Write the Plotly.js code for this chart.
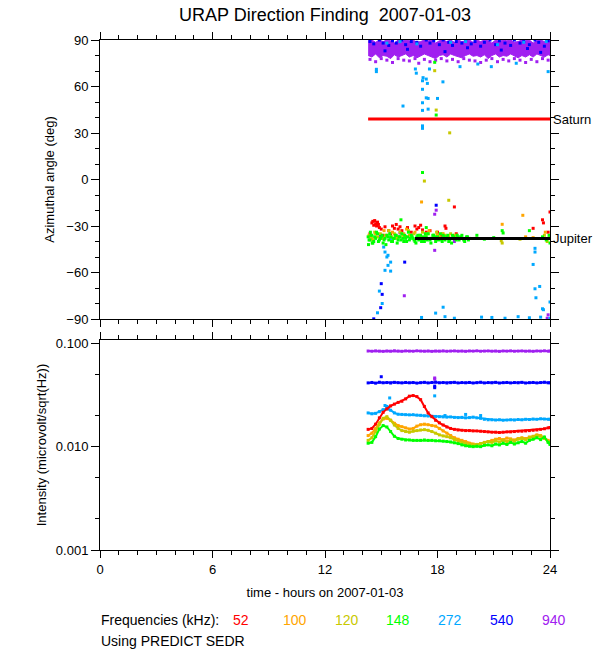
<!DOCTYPE html>
<html>
<head>
<meta charset="utf-8">
<script src="https://cdn.plot.ly/plotly-3.0.1.min.js"></script>
<style>html,body{margin:0;padding:0;background:#fff;}#chart{width:600px;height:650px;}</style>
</head>
<body>
<div id="chart"></div>
<script>
// ---------- DATA ----------
const FREQ_LABELS = ['52','100','120','148','272','540','940'];

// common time grid (hours)
const HOURS = [
14.3,14.5,14.7,14.9,15.1,15.3,15.5,15.7,15.9,16.1,
16.3,16.5,16.7,16.9,17.1,17.3,17.5,17.7,17.9,18.1,
18.3,18.5,18.7,18.9,19.1,19.3,19.5,19.7,19.9,20.1,
20.3,20.5,20.7,20.9,21.1,21.3,21.5,21.7,21.9,22.1,
22.3,22.5,22.7,22.9,23.1,23.3,23.5,23.7,23.9,24.0];

// intensity (microvolt/sqrt(Hz)) per frequency
const I52 = [
0.0147,0.0150,0.0165,0.0190,0.0215,0.0232,0.0248,0.0258,0.0268,0.0275,
0.0290,0.0308,0.0312,0.0305,0.0285,0.0245,0.0212,0.0195,0.0180,0.0170,
0.0162,0.0155,0.0150,0.0147,0.0145,0.0144,0.0143,0.0143,0.0142,0.0142,
0.0141,0.0140,0.0139,0.0138,0.0138,0.0137,0.0138,0.0139,0.0139,0.0140,
0.0141,0.0141,0.0142,0.0143,0.0144,0.0145,0.0147,0.0149,0.0152,0.0153];
const I100 = [
0.0128,0.0135,0.0150,0.0170,0.0185,0.0188,0.0180,0.0168,0.0160,0.0156,
0.0152,0.0148,0.0150,0.0158,0.0163,0.0165,0.0163,0.0160,0.0158,0.0150,
0.0142,0.0135,0.0128,0.0122,0.0118,0.0115,0.0112,0.0108,0.0106,0.0105,
0.0107,0.0110,0.0112,0.0115,0.0118,0.0120,0.0117,0.0121,0.0119,0.0116,
0.0120,0.0122,0.0120,0.0124,0.0126,0.0130,0.0128,0.0122,0.0115,0.0112];
const I120 = [
0.0115,0.0122,0.0140,0.0165,0.0188,0.0195,0.0180,0.0162,0.0150,0.0143,
0.0140,0.0138,0.0141,0.0143,0.0145,0.0146,0.0144,0.0140,0.0135,0.0130,
0.0127,0.0125,0.0122,0.0117,0.0113,0.0110,0.0107,0.0105,0.0104,0.0105,
0.0107,0.0109,0.0112,0.0110,0.0114,0.0111,0.0115,0.0112,0.0116,0.0113,
0.0118,0.0120,0.0117,0.0122,0.0125,0.0128,0.0126,0.0120,0.0112,0.0110];
const I148 = [
0.0108,0.0110,0.0125,0.0148,0.0160,0.0155,0.0140,0.0126,0.0120,0.0118,
0.0116,0.0116,0.0115,0.0115,0.0115,0.0116,0.0115,0.0115,0.0114,0.0114,
0.0113,0.0112,0.0111,0.0109,0.0107,0.0104,0.0102,0.0101,0.0100,0.0101,
0.0100,0.0103,0.0104,0.0102,0.0106,0.0104,0.0108,0.0105,0.0110,0.0106,
0.0109,0.0112,0.0108,0.0115,0.0118,0.0122,0.0117,0.0124,0.0110,0.0105];
const I272 = [
0.0212,0.0208,0.0210,0.0218,0.0228,0.0232,0.0225,0.0212,0.0206,0.0205,
0.0204,0.0203,0.0204,0.0202,0.0201,0.0199,0.0198,0.0197,0.0196,0.0195,
0.0194,0.0193,0.0194,0.0192,0.0191,0.0192,0.0190,0.0191,0.0193,0.0190,
0.0188,0.0184,0.0182,0.0182,0.0181,0.0182,0.0180,0.0181,0.0182,0.0181,
0.0183,0.0182,0.0184,0.0183,0.0185,0.0184,0.0186,0.0185,0.0184,0.0184];
const I540 = [
0.0414,0.0418,0.0412,0.0420,0.0415,0.0417,0.0413,0.0419,0.0416,0.0414,
0.0418,0.0415,0.0417,0.0412,0.0416,0.0419,0.0414,0.0418,0.0421,0.0415,
0.0417,0.0413,0.0416,0.0419,0.0414,0.0417,0.0415,0.0418,0.0413,0.0416,
0.0420,0.0414,0.0417,0.0415,0.0419,0.0413,0.0416,0.0418,0.0414,0.0417,
0.0415,0.0419,0.0413,0.0416,0.0418,0.0414,0.0417,0.0420,0.0415,0.0416];
const I940 = [
0.0842,0.0838,0.0845,0.0840,0.0836,0.0843,0.0839,0.0847,0.0841,0.0837,
0.0844,0.0840,0.0838,0.0846,0.0841,0.0839,0.0843,0.0836,0.0842,0.0840,
0.0845,0.0838,0.0841,0.0844,0.0839,0.0842,0.0837,0.0843,0.0840,0.0846,
0.0838,0.0841,0.0844,0.0839,0.0842,0.0836,0.0843,0.0840,0.0845,0.0838,
0.0841,0.0844,0.0839,0.0842,0.0837,0.0843,0.0840,0.0846,0.0839,0.0841];

// intensity outliers
const I540_OUT_X = [15.0,17.85,17.85];
const I540_OUT_Y = [0.0475,0.0372,0.0385];
const I940_OUT_X = [17.85,17.85];
const I940_OUT_Y = [0.0462,0.0450];
const I272_OUT_X = [17.85,15.45,15.2,15.3,15.4,19.5,18.4,20.3];
const I272_OUT_Y = [0.031,0.0296,0.0250,0.0245,0.0240,0.0205,0.0200,0.0200];

// azimuth: 940 kHz dense band (lower / upper edge)
const BAND_LOW = [
80,79,81,78.5,80,79.5,78,80.5,79,80,
81,79,80,78.5,79.5,81,80,79,78,80,
80.5,79,81,80,79,78.5,80,81,79.5,80,
79,80.5,78,80,81,79,80,79.5,81,80,
78.5,80,79,80.5,79,81,80,79,80.5,80];
const BAND_TOP = [
89.5,90,88.5,90,89,90,89.5,88,90,89,
90,89.5,90,88.5,89,90,89.5,90,88,89.5,
90,89,90,88.5,90,89,89.5,90,88.5,90,
89,90,89.5,88,90,89,90,89.5,90,88.5,
89,90,89.5,90,88,89.5,90,89,90,89.5];

// azimuth scatter points per frequency
const AZ940_X = [14.4,14.7,15.0,15.3,15.6,15.9,16.2,16.5,16.8,17.0,
17.3,17.6,17.9,18.2,18.5,18.8,19.1,19.4,19.7,20.0,
20.3,20.6,20.9,21.2,21.5,21.8,22.1,22.4,22.7,23.0,
23.3,23.6,23.9,17.93,17.85,17.85,16.23,23.9,23.85,16.0,18.9];
const AZ940_Y = [77.5,76,78,77,75.5,78,77,76.5,78,75,
77.5,76,77,78,76.5,77.5,76,78,77,76.5,
75.5,77,78,76,77.5,76.5,78,77,75.5,77.5,
76,78,77,-19.8,-22.4,-45.7,-75,-87.3,-89.5,-34.5,-40];

const AZ540_X = [14.4,14.6,14.9,15.1,15.4,15.6,15.8,16.1,16.3,16.6,
16.9,17.1,17.4,17.6,17.8,18.1,18.3,18.6,18.8,19.0,
19.3,19.5,19.8,20.0,20.3,20.5,20.8,21.1,21.3,21.6,
21.9,22.1,22.4,22.6,22.9,23.2,23.4,23.7,23.9,15.2,
16.4,18.4,19.6,21.4,22.8,23.5,
16.25,15.0,15.05,14.97,14.6,17.93,14.97];
const AZ540_Y = [89,87.5,90,88,86.5,89.5,88,90,87,89,
88.5,86,90,88,89.5,87,90,88.5,86.5,89,
88,90,87.5,89,86,88.5,90,87,89.5,88,
86.5,90,88,89,87,90,88.5,86,89.5,83,
84,82.5,85,83.5,84.5,82,
-53.3,-67.2,-74.1,-82.7,-89.9,-16.6,-36];

const AZ272_X = [14.74,14.74,16.82,16.87,17.57,17.23,17.4,17.2,17.46,18.29,
17.2,17.4,17.5,18.0,17.2,16.16,17.2,17.5,17.2,17.2,
19.2,20.15,20.87,22.2,23.9,
15.13,15.2,15.36,15.3,15.5,15.36,15.2,15.5,14.9,15.05,14.8,
23.2,23.2,23.1,23.2,23.45,23.25,23.6,23.65,24.0,18.3,17.9,
17.15,18.4,18.9,20.35,20.9,21.6,22.3,22.9,23.5,24.0,
15.3,16.0,16.9,18.7,19.5,21.2,22.6,23.8,15.5];
const AZ272_Y = [71.1,69.6,71.3,68.6,71.3,65.7,64.8,63.7,62,63,
58.2,52.7,52.3,52.3,49.5,47.4,44.6,45.4,34.6,33,
72.8,74.5,72.8,75,69.6,
-43.6,-46.8,-48.9,-50,-53.3,-55.4,-58.6,-59.1,-72,-80,-86,
-44.4,-46.8,-54.8,-70.5,-69,-76.3,-83.4,-84,-79,-82.4,-86.2,
-89,-88.5,-89.5,-88.8,-89,-89.5,-88.5,-89.2,-88.8,-89.5,
88,89,87.5,88.5,89,87,88.5,89,-38];

const AZ148_X = [
14.3,14.4,14.5,14.6,14.7,14.8,14.9,15.0,15.1,15.2,
15.3,15.4,15.5,15.6,15.7,15.8,15.9,16.0,16.1,16.2,
16.3,16.4,16.5,16.6,16.7,16.8,16.9,17.0,17.1,17.2,
17.3,17.4,17.5,17.6,17.7,17.8,17.9,18.0,18.1,18.2,
18.3,18.4,18.5,18.6,18.7,18.8,18.9,19.0,19.1,19.2,
19.3,19.4,19.5,19.6,19.7,
14.35,14.45,14.55,14.65,14.75,14.85,14.95,15.05,15.15,15.25,
15.35,15.45,15.55,15.65,15.75,15.85,15.95,16.05,16.15,16.25,
16.35,16.45,16.55,16.65,16.75,16.85,16.95,17.05,17.15,17.25,
17.35,17.45,17.55,17.65,17.75,17.85,17.95,18.05,18.15,18.25,
18.35,18.45,18.55,18.65,18.75,18.85,18.95,19.05,19.15,19.25,
19.35,19.45,19.55,19.65,
20.1,20.5,21.0,21.45,21.5,22.9,23.6,23.8,23.95,24.0,
17.85,17.93,17.2,16.05,17.4,14.32,14.42,14.52];
const AZ148_Y = [
-37,-39,-36,-40,-38,-35,-39,-37,-41,-38,
-36,-39,-37,-40,-38,-36,-39,-37,-35,-40,
-38,-37,-39,-36,-38,-40,-37,-39,-36,-38,
-40,-37,-35,-39,-38,-36,-40,-37,-39,-38,
-36,-39,-37,-40,-38,-36,-38,-39,-37,-38,
-36,-39,-38,-37,-38,
-39,-36,-41,-37,-34,-40,-38,-36,-39,-42,
-37,-35,-40,-38,-36,-41,-37,-39,-38,-36,
-40,-34,-38,-37,-39,-41,-36,-38,-40,-37,
-35,-39,-38,-41,-36,-37,-39,-38,-35,-40,
-37,-38,-36,-39,-41,-37,-38,-36,-39,-37,
-38,-40,-37,-39,
-36,-38.5,-37.5,-33,-34.5,-33,-37,-39,-36,-41,
75.6,41.6,4.5,-26,-31,-42,-34,-41];

const AZ120_X = [14.35,14.5,14.65,14.8,14.95,15.1,15.25,15.4,15.55,15.7,
15.85,16.0,16.15,16.3,16.45,16.6,16.75,16.9,17.05,17.2,
17.35,17.5,17.65,17.8,17.95,18.1,18.25,18.4,18.55,18.7,
18.85,19.0,21.4,21.45,22.4,23.7,23.85,24.0,17.85,17.93,18.65,17.3,18.6];
const AZ120_Y = [-36,-38,-34,-37,-35,-38,-36,-33,-37,-35,
-38,-34,-36,-37,-33,-36,-35,-38,-36,-34,
-37,-35,-38,-36,-34,-37,-35,-36,-38,-35,
-37,-36,-39.5,-41,-38.5,-36,-40,-37,70.2,44.8,30.1,-1,-13.4];

const AZ100_X = [14.4,14.7,15.0,15.3,15.6,15.9,16.2,16.5,16.8,17.1,
17.4,17.7,18.0,18.3,18.6,18.9,14.55,15.15,15.75,16.35,
16.95,17.55,21.45,22.55,22.7,23.1,23.75,23.9,17.15,20.0];
const AZ100_Y = [-37,-35,-38,-36,-34,-37,-35,-36,-34,-37,
-35,-38,-36,-35,-37,-36,-39,-33,-36,-32,
-38,-33,-28.9,-23.1,-37,-37.5,-34,-38,-14.5,-38];

const AZ52_X = [14.5,14.55,14.6,14.65,14.7,14.75,14.8,14.85,14.9,15.0,
15.2,15.4,15.6,15.7,15.8,15.9,16.0,16.1,16.4,16.6,
16.8,16.9,17.0,17.1,17.2,17.6,18.0,18.4,18.45,14.4,
15.1,15.5,16.3,17.4,18.2,19.0,18.9,23.1,23.6,23.65,23.9,24.0];
const AZ52_Y = [-28,-27,-29.5,-26.5,-28.5,-30,-27.5,-29,-31,-32,
-30.5,-33,-30,-31.5,-29,-32,-30.5,-33,-31,-34,
-30,-32,-31,-29.5,-32.5,-33,-34,-30,-31.5,-35,
-36,-35,-37,-34,-36,-35,-17.7,-31.5,-26,-28,-34,-20.9];

// planet directions
const SATURN_X = [14.3, 24];
const SATURN_Y = [39, 39];
const JUPITER_X = [16.8, 24];
const JUPITER_Y = [-38, -38];

// ---------- STYLE ----------
const COLORS = ['#ff0000','#ffa500','#c8c800','#00ff00','#00a8ff','#0000ff','#a020f0'];
const FONT = 'Liberation Sans, Arial, Helvetica, sans-serif';

function pts(x, y, color, xa, ya) {
  return {type:'scatter', mode:'markers', x:x, y:y, xaxis:xa, yaxis:ya,
    marker:{symbol:'square', size:3, color:color, line:{width:0}}, hoverinfo:'skip'};
}
function curve(x, y, color) {
  return {type:'scatter', mode:'lines+markers', x:x, y:y, xaxis:'x', yaxis:'y2',
    line:{color:color, width:2}, marker:{symbol:'square', size:3, color:color, line:{width:0}}, hoverinfo:'skip'};
}

const traces = [];
// top panel
traces.push({type:'scatter', mode:'lines', x:HOURS, y:BAND_LOW, xaxis:'x2', yaxis:'y',
  line:{color:COLORS[6], width:1}, hoverinfo:'skip'});
traces.push({type:'scatter', mode:'lines', x:HOURS, y:BAND_TOP, xaxis:'x2', yaxis:'y',
  fill:'tonexty', fillcolor:COLORS[6], line:{color:COLORS[6], width:1}, hoverinfo:'skip'});
traces.push(pts(AZ940_X, AZ940_Y, COLORS[6], 'x2', 'y'));
traces.push(pts(AZ540_X, AZ540_Y, COLORS[5], 'x2', 'y'));
traces.push(pts(AZ272_X, AZ272_Y, COLORS[4], 'x2', 'y'));
traces.push({type:'scatter', mode:'lines', x:SATURN_X, y:SATURN_Y, xaxis:'x2', yaxis:'y',
  line:{color:'#ff0000', width:3}, hoverinfo:'skip'});
traces.push(pts(AZ52_X, AZ52_Y, COLORS[0], 'x2', 'y'));
traces.push(pts(AZ100_X, AZ100_Y, COLORS[1], 'x2', 'y'));
traces.push(pts(AZ120_X, AZ120_Y, COLORS[2], 'x2', 'y'));
traces.push(pts(AZ148_X, AZ148_Y, COLORS[3], 'x2', 'y'));
traces.push({type:'scatter', mode:'lines', x:JUPITER_X, y:JUPITER_Y, xaxis:'x2', yaxis:'y',
  line:{color:'#000000', width:3}, hoverinfo:'skip'});

// bottom panel
traces.push(curve(HOURS, I940, COLORS[6]));
traces.push(pts(I940_OUT_X, I940_OUT_Y, COLORS[6], 'x', 'y2'));
traces.push(curve(HOURS, I540, COLORS[5]));
traces.push(pts(I540_OUT_X, I540_OUT_Y, COLORS[5], 'x', 'y2'));
traces.push(curve(HOURS, I272, COLORS[4]));
traces.push(pts(I272_OUT_X, I272_OUT_Y, COLORS[4], 'x', 'y2'));
traces.push(curve(HOURS, I52, COLORS[0]));
traces.push(curve(HOURS, I100, COLORS[1]));
traces.push(curve(HOURS, I120, COLORS[2]));
traces.push(curve(HOURS, I148, COLORS[3]));

const ax = {showline:true, linecolor:'#000', linewidth:1, mirror:'ticks', ticks:'outside',
  tickcolor:'#000', tickwidth:1, showgrid:false, zeroline:false,
  tickfont:{family:FONT, size:13, color:'#000'}};

function px2paperX(px) { return (px - 100) / 450; }
function px2paperY(py) { return (550 - py) / 510; }

const annotations = [
  {xref:'x2', yref:'y', x:24, y:SATURN_Y[0], text:'Saturn', showarrow:false, xanchor:'left', yanchor:'middle', xshift:1,
   font:{family:FONT, size:13, color:'#000'}},
  {xref:'x2', yref:'y', x:24, y:JUPITER_Y[0], text:'Jupiter', showarrow:false, xanchor:'left', yanchor:'middle', xshift:1,
   font:{family:FONT, size:13, color:'#000'}},
  {xref:'paper', yref:'paper', x:px2paperX(99), y:px2paperY(620), text:'Frequencies (kHz):', showarrow:false,
   xanchor:'left', yanchor:'middle', font:{family:FONT, size:14, color:'#000'}},
  {xref:'paper', yref:'paper', x:px2paperX(99), y:px2paperY(641), text:'Using PREDICT SEDR', showarrow:false,
   xanchor:'left', yanchor:'middle', font:{family:FONT, size:14, color:'#000'}}
];
const LABEL_PX = [231, 281, 333, 384, 436, 488, 540];
FREQ_LABELS.forEach(function(t, i) {
  annotations.push({xref:'paper', yref:'paper', x:px2paperX(LABEL_PX[i]), y:px2paperY(620), text:t, showarrow:false,
    xanchor:'left', yanchor:'middle', font:{family:FONT, size:14, color:COLORS[i]}});
});

const layout = {
  width:600, height:650,
  margin:{l:100, r:50, t:40, b:100, pad:0},
  paper_bgcolor:'#fff', plot_bgcolor:'#fff',
  showlegend:false,
  title:{text:'URAP Direction Finding\u00A0\u00A02007-01-03', x:0.5, xref:'paper', xanchor:'center',
    y:1 - 15/650, yref:'container', yanchor:'middle', font:{family:FONT, size:18, color:'#000'}},
  xaxis: Object.assign({}, ax, {anchor:'y2', domain:[0,1], range:[0,24], tickmode:'array',
    tickvals:[0,6,12,18,24], ticklen:7,
    minor:{tickmode:'linear', tick0:0, dtick:1, ticklen:4, ticks:'outside', tickcolor:'#000', showgrid:false},
    title:{text:'time - hours on 2007-01-03', font:{family:FONT, size:13, color:'#000'}, standoff:12}}),
  xaxis2: Object.assign({}, ax, {anchor:'y', domain:[0,1], range:[0,24], matches:'x', tickmode:'array',
    tickvals:[0,6,12,18,24], ticklen:7, showticklabels:false,
    minor:{tickmode:'linear', tick0:0, dtick:1, ticklen:4, ticks:'outside', tickcolor:'#000', showgrid:false}}),
  yaxis: Object.assign({}, ax, {anchor:'x2', domain:[px2paperY(319), 1], range:[-90,90], tickmode:'array',
    tickvals:[-90,-60,-30,0,30,60,90], ticklen:8,
    minor:{tickmode:'linear', tick0:0, dtick:10, ticklen:4, ticks:'outside', tickcolor:'#000', showgrid:false},
    title:{text:'Azimuthal angle (deg)', font:{family:FONT, size:13, color:'#000'}, standoff:8}}),
  yaxis2: Object.assign({}, ax, {anchor:'x', domain:[0, px2paperY(340)], type:'log', range:[-3,-0.968],
    tickmode:'array', tickvals:[0.001,0.01,0.1], ticktext:['0.001','0.010','0.100'], ticklen:8,
    minor:{tickmode:'array', tickvals:[0.002,0.005,0.02,0.05], ticklen:4, ticks:'outside', tickcolor:'#000', showgrid:false},
    title:{text:'Intensity (microvolt/sqrt(Hz))', font:{family:FONT, size:13, color:'#000'}, standoff:6}}),
  annotations: annotations
};

Plotly.newPlot('chart', traces, layout, {displayModeBar:false, staticPlot:true});
</script>
</body>
</html>
